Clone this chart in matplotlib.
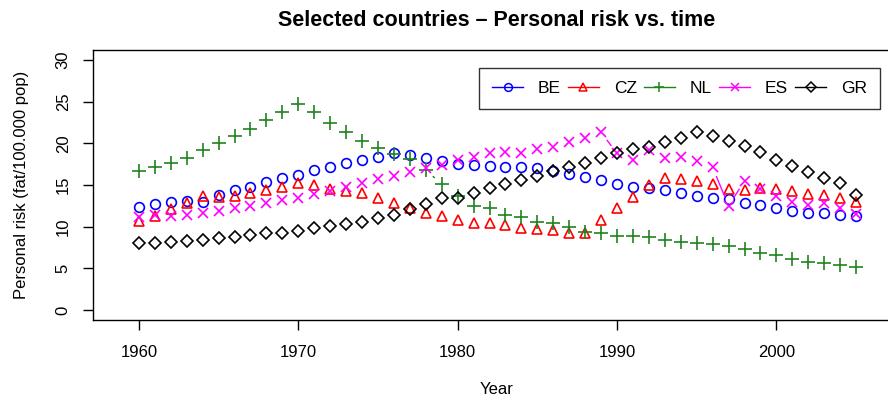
import numpy as np
import matplotlib
matplotlib.use("Agg")
import matplotlib.pyplot as plt
from matplotlib.lines import Line2D

plt.rcParams['font.family'] = ['Liberation Sans', 'DejaVu Sans']

# data (fatalities per 100.000 pop)
years = list(range(1960, 2006))
be = [12.4, 12.7, 13.0, 13.1, 13.0, 13.8, 14.4, 14.8, 15.4, 15.8,
      16.2, 16.8, 17.2, 17.6, 18.0, 18.4, 18.8, 18.6, 18.2, 17.9,
      17.5, 17.4, 17.3, 17.2, 17.1, 17.0, 16.7, 16.3, 16.0, 15.6,
      15.1, 14.8, 14.6, 14.4, 14.0, 13.7, 13.5, 13.3, 12.9, 12.6,
      12.2, 11.9, 11.7, 11.6, 11.4, 11.3]
cz = [10.7, 11.3, 12.1, 12.9, 13.7, 13.6, 13.7, 14.0, 14.4, 14.8,
      15.2, 15.0, 14.5, 14.3, 14.0, 13.5, 12.8, 12.2, 11.7, 11.3,
      10.8, 10.5, 10.4, 10.2, 9.9, 9.7, 9.6, 9.3, 9.3, 10.8,
      12.3, 13.6, 15.0, 15.8, 15.7, 15.5, 15.1, 14.5, 14.4, 14.6,
      14.5, 14.3, 13.9, 13.8, 13.5, 13.0]
nl = [16.7, 17.1, 17.6, 18.2, 19.2, 20.0, 20.9, 21.7, 22.8, 23.8,
      24.7, 23.8, 22.5, 21.3, 20.3, 19.4, 18.7, 18.1, 16.8, 15.1,
      13.7, 12.5, 12.2, 11.4, 11.2, 10.6, 10.4, 10.0, 9.4, 9.3,
      8.9, 8.9, 8.8, 8.4, 8.2, 8.0, 7.9, 7.7, 7.3, 6.9,
      6.6, 6.1, 5.8, 5.6, 5.4, 5.2]
es = [11.2, 11.4, 11.3, 11.4, 11.7, 11.9, 12.2, 12.5, 12.8, 13.2,
      13.5, 13.9, 14.3, 14.8, 15.3, 15.7, 16.1, 16.6, 17.0, 17.4,
      18.0, 18.3, 18.8, 19.0, 18.9, 19.3, 19.6, 20.1, 20.6, 21.3,
      18.8, 18.0, 19.2, 18.2, 18.4, 17.9, 17.1, 12.5, 15.5, 14.5,
      13.7, 13.0, 12.6, 12.8, 12.2, 11.5]
gr = [8.0, 8.1, 8.2, 8.3, 8.4, 8.6, 8.8, 9.0, 9.2, 9.3,
      9.5, 9.8, 10.1, 10.3, 10.6, 11.0, 11.4, 12.1, 12.7, 13.4,
      13.5, 14.0, 14.6, 15.1, 15.6, 16.1, 16.7, 17.2, 17.7, 18.2,
      18.9, 19.3, 19.6, 20.2, 20.7, 21.4, 20.9, 20.3, 19.7, 19.0,
      18.0, 17.3, 16.6, 15.9, 15.2, 13.8]

countries = ["BE", "CZ", "NL", "ES", "GR"]
series = [be, cz, nl, es, gr]
colors = ["#0000ff", "#ff0000", "#1f841f", "#ff00ff", "#000000"]
markers = ["o", "^", "+", "x", "D"]
msizes = [7, 7.5, 9.5, 7, 6]

W, H = 888, 401
fig = plt.figure(figsize=(W / 100, H / 100), dpi=100)
# plot box: left 93px, right runs off the picture, top 50px, bottom 320px
ax = fig.add_axes([93 / W, (H - 320) / H, (902 - 93) / W, 270 / H])
ax.set_xlim(1957.12, 2007.88)
ax.set_ylim(-1.2, 31.2)


def gapped_lines(x, y, color, gap=10):
    # R type="b": segments stop short of the points
    pts = ax.transData.transform(np.column_stack([x, y]))
    inv = ax.transData.inverted()
    for (x0, y0), (x1, y1) in zip(pts[:-1], pts[1:]):
        d = np.hypot(x1 - x0, y1 - y0)
        if d > 2 * gap + 0.5:
            ux, uy = (x1 - x0) / d, (y1 - y0) / d
            seg = inv.transform([(x0 + ux * gap, y0 + uy * gap),
                                 (x1 - ux * gap, y1 - uy * gap)])
            ax.plot(seg[:, 0], seg[:, 1], color=color, lw=1)


handles = []
for name, vals, c, m, ms in zip(countries, series, colors, markers, msizes):
    gapped_lines(years, vals, c)
    ax.plot(years, vals, linestyle="none", marker=m, markersize=ms,
            markerfacecolor="none", markeredgecolor=c, markeredgewidth=1.2)
    handles.append(Line2D([], [], color=c, lw=1, marker=m, markersize=ms * 0.8,
                          markerfacecolor="none", markeredgecolor=c,
                          markeredgewidth=1.1, label=name))

ax.set_xticks([1960, 1970, 1980, 1990, 2000])
ax.set_yticks([0, 5, 10, 15, 20, 25, 30])
ax.tick_params(direction="out", length=7, width=1, labelsize=12)
ax.tick_params(axis="x", pad=11)
ax.tick_params(axis="y", pad=9)
for lab in ax.get_yticklabels():
    lab.set_rotation(90)
    lab.set_va("center")
for s in ax.spines.values():
    s.set_linewidth(1)

fig.text(497 / W, (H - 20) / H, "Selected countries \u2013 Personal risk vs. time",
         ha="center", va="center", fontsize=15.5, fontweight="bold")
fig.text(497 / W, (H - 390) / H, "Year", ha="center", va="center", fontsize=12)
fig.text(22 / W, (H - 185) / H, "Personal risk (fat/100.000 pop)",
         ha="center", va="center", rotation=90, fontsize=12)

leg = ax.legend(handles=handles, ncol=5, loc="upper right",
                bbox_to_anchor=(880 / W, (H - 68) / H),
                bbox_transform=fig.transFigure, fontsize=12.5,
                frameon=True, fancybox=False, edgecolor="black",
                handlelength=1.8, handletextpad=0.85, columnspacing=0.4,
                borderpad=0.75, borderaxespad=0)
leg.get_frame().set_linewidth(1)

fig.savefig("out.png", dpi=100)
